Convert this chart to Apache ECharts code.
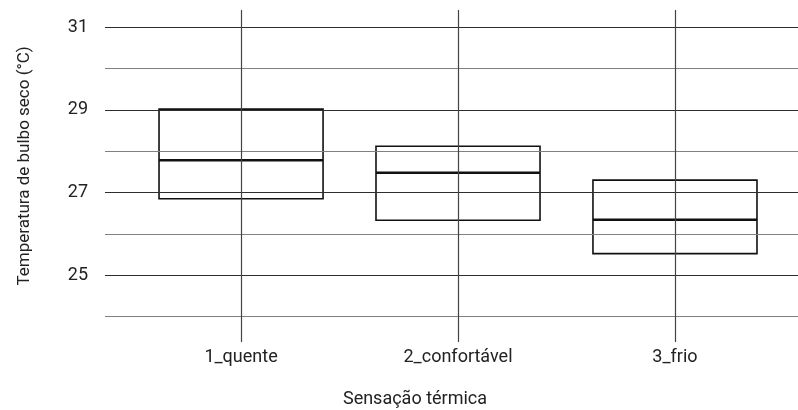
<!DOCTYPE html>
<html>
<head>
<meta charset="utf-8">
<script src="https://cdn.jsdelivr.net/npm/echarts@6/dist/echarts.min.js"></script>
<style>
  html, body { margin: 0; padding: 0; background: #fff; }
  #chart { width: 798px; height: 410px; }
</style>
</head>
<body>
<div id="chart"></div>
<script>
// dados
var categories = ['1_quente', '2_confortável', '3_frio'];
var q1 = [26.85, 26.33, 25.52];
var median = [27.78, 27.48, 26.34];
var q3 = [29.02, 28.12, 27.30];
var majorTicks = [25, 27, 29, 31];
var minorTicks = [24, 26, 28, 30];

var tickFont = 'Roboto, sans-serif';
var boxWidth = 0.756;

var chart = echarts.init(document.getElementById('chart'));

var boxData = categories.map(function (c, i) {
  return [i + 1, q1[i], median[i], q3[i]];
});

// linhas de grade (secundárias cinza, principais escuras)
var gridLines = [];
minorTicks.forEach(function (v) {
  gridLines.push({ yAxis: v, lineStyle: { color: '#808080', width: 1.2, type: 'solid' } });
});
majorTicks.forEach(function (v) {
  gridLines.push({ yAxis: v, lineStyle: { color: '#2e2e2e', width: 1.2, type: 'solid' } });
});
categories.forEach(function (c, i) {
  gridLines.push({ xAxis: i + 1, lineStyle: { color: '#444', width: 1.2, type: 'solid' } });
});

var option = {
  animation: false,
  grid: { left: 105, right: 0, top: 10, bottom: 68 },
  xAxis: {
    type: 'value',
    min: 0.373,
    max: 3.567,
    axisLine: { show: false },
    axisTick: { show: false },
    splitLine: { show: false },
    axisLabel: {
      customValues: [1, 2, 3],
      margin: 6,
      fontFamily: tickFont,
      fontSize: 18,
      color: '#222',
      formatter: function (v) { return categories[Math.round(v) - 1] || ''; }
    }
  },
  yAxis: {
    type: 'value',
    min: 23.38,
    max: 31.42,
    axisLine: { show: false },
    axisTick: { show: false },
    splitLine: { show: false },
    axisLabel: {
      customValues: majorTicks,
      margin: 17,
      fontFamily: tickFont,
      fontSize: 18,
      color: '#222'
    }
  },
  graphic: [
    {
      type: 'text',
      x: 415,
      y: 399,
      style: {
        text: 'Sensação térmica',
        fontFamily: tickFont,
        fontSize: 18,
        fill: '#222',
        align: 'center',
        verticalAlign: 'middle'
      }
    },
    {
      type: 'text',
      x: 25,
      y: 166,
      rotation: Math.PI / 2,
      style: {
        text: 'Temperatura de bulbo seco (°C)',
        fontFamily: 'Roboto, sans-serif',
        fontSize: 17,
        fill: '#222',
        align: 'center',
        verticalAlign: 'middle'
      }
    }
  ],
  series: [
    {
      type: 'line',
      data: [],
      z: 1,
      markLine: {
        silent: true,
        symbol: 'none',
        label: { show: false },
        animation: false,
        data: gridLines
      }
    },
    {
      type: 'custom',
      z: 3,
      data: boxData,
      renderItem: function (params, api) {
        var x = api.value(0);
        var lo = api.coord([x, api.value(1)]);
        var md = api.coord([x, api.value(2)]);
        var hi = api.coord([x, api.value(3)]);
        var w = api.size([boxWidth, 0])[0];
        return {
          type: 'group',
          children: [
            {
              type: 'rect',
              shape: { x: lo[0] - w / 2, y: hi[1], width: w, height: lo[1] - hi[1] },
              style: { fill: '#fff', stroke: '#111', lineWidth: 1.6 }
            },
            {
              type: 'line',
              shape: { x1: lo[0] - w / 2, y1: md[1], x2: lo[0] + w / 2, y2: md[1] },
              style: { stroke: '#111', lineWidth: 2.6 }
            }
          ]
        };
      }
    }
  ]
};

chart.setOption(option);
</script>
</body>
</html>
